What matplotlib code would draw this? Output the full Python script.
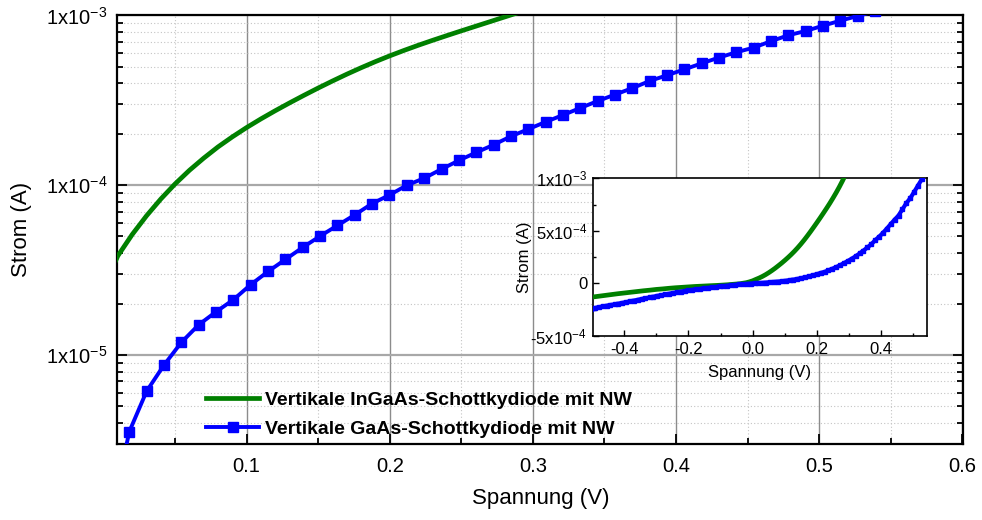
import math
import matplotlib
matplotlib.use('Agg')
import matplotlib.pyplot as plt
from matplotlib.ticker import FixedLocator, FuncFormatter, LogLocator, MultipleLocator, NullFormatter

plt.rcParams['font.family'] = ['Liberation Sans', 'DejaVu Sans']
plt.rcParams['mathtext.fontset'] = 'custom'
plt.rcParams['mathtext.rm'] = 'Liberation Sans'
plt.rcParams['mathtext.it'] = 'Liberation Sans:italic'
plt.rcParams['mathtext.bf'] = 'Liberation Sans:bold'

# ---------------- data ----------------
label_ingaas = "Vertikale InGaAs-Schottkydiode mit NW"
label_gaas = "Vertikale GaAs-Schottkydiode mit NW"

ingaas_v = [-0.50, -0.48, -0.46, -0.44, -0.42, -0.40, -0.38, -0.36, -0.34, -0.32,
            -0.30, -0.28, -0.26, -0.24, -0.22, -0.20, -0.18, -0.16, -0.14, -0.12,
            -0.10, -0.08, -0.06, -0.04, -0.03, -0.02, -0.01, 0.00,
            0.01, 0.02, 0.03, 0.04, 0.05, 0.06, 0.07, 0.08, 0.09, 0.10,
            0.11, 0.12, 0.13, 0.14, 0.15, 0.16, 0.17, 0.18, 0.19, 0.20,
            0.21, 0.22, 0.23, 0.24, 0.25, 0.26, 0.27, 0.28, 0.29, 0.30]
ingaas_i = [-1.30e-4, -1.22e-4, -1.14e-4, -1.06e-4, -0.98e-4, -0.91e-4, -0.84e-4, -0.77e-4, -0.70e-4, -0.64e-4,
            -0.57e-4, -0.52e-4, -0.46e-4, -0.41e-4, -0.37e-4, -0.33e-4, -0.29e-4, -0.26e-4, -0.23e-4, -0.20e-4,
            -0.17e-4, -0.13e-4, -0.08e-4, -0.03e-4, 0.02e-4, 0.07e-4, 0.15e-4, 2.5e-5,
            3.846e-5, 5.13e-5, 6.61e-5, 8.30e-5, 1.019e-4, 1.225e-4, 1.445e-4, 1.683e-4, 1.928e-4, 2.188e-4,
            2.460e-4, 2.748e-4, 3.055e-4, 3.384e-4, 3.737e-4, 4.111e-4, 4.508e-4, 4.920e-4, 5.346e-4, 5.781e-4,
            6.223e-4, 6.675e-4, 7.136e-4, 7.611e-4, 8.110e-4, 8.630e-4, 9.183e-4, 9.772e-4, 1.040e-3, 1.107e-3]

gaas_v = [-0.503, -0.491, -0.479, -0.467, -0.455, -0.443, -0.430, -0.418, -0.406, -0.394,
          -0.382, -0.370, -0.358, -0.346, -0.334, -0.321, -0.309, -0.297, -0.285, -0.273,
          -0.261, -0.249, -0.237, -0.224, -0.212, -0.200, -0.188, -0.176, -0.164, -0.152,
          -0.140, -0.127, -0.115, -0.103, -0.091, -0.079, -0.067, -0.055, -0.043, -0.031,
          -0.018, -0.006, 0.006,
          0.0180, 0.0301, 0.0422, 0.0544, 0.0665, 0.0786, 0.0907, 0.1028, 0.1150, 0.1271,
          0.1392, 0.1513, 0.1634, 0.1756, 0.1877, 0.1998, 0.2119, 0.2240, 0.2362, 0.2483,
          0.2604, 0.2725, 0.2846, 0.2968, 0.3089, 0.3210, 0.3331, 0.3452, 0.3574, 0.3695,
          0.3816, 0.3937, 0.4058, 0.4180, 0.4301, 0.4422, 0.4543, 0.4664, 0.4786, 0.4907,
          0.5028, 0.5149, 0.5270, 0.5392, 0.5513]
gaas_i = [-2.40e-4, -2.33e-4, -2.26e-4, -2.19e-4, -2.12e-4, -2.05e-4, -1.99e-4, -1.92e-4, -1.85e-4, -1.78e-4,
          -1.70e-4, -1.63e-4, -1.56e-4, -1.48e-4, -1.41e-4, -1.33e-4, -1.26e-4, -1.18e-4, -1.12e-4, -1.05e-4,
          -0.98e-4, -0.91e-4, -0.85e-4, -0.78e-4, -0.72e-4, -0.66e-4, -0.61e-4, -0.56e-4, -0.52e-4, -0.47e-4,
          -0.43e-4, -0.38e-4, -0.34e-4, -0.29e-4, -0.25e-4, -0.21e-4, -0.17e-4, -0.13e-4, -0.10e-4, -0.07e-4,
          -0.04e-4, -0.01e-4, 1.2e-6,
          3.55e-6, 6.14e-6, 8.74e-6, 1.19e-5, 1.51e-5, 1.80e-5, 2.12e-5, 2.60e-5, 3.11e-5, 3.66e-5,
          4.31e-5, 5.02e-5, 5.80e-5, 6.70e-5, 7.81e-5, 8.76e-5, 1.00e-4, 1.10e-4, 1.245e-4, 1.40e-4,
          1.56e-4, 1.73e-4, 1.94e-4, 2.14e-4, 2.36e-4, 2.59e-4, 2.85e-4, 3.13e-4, 3.42e-4, 3.73e-4,
          4.11e-4, 4.44e-4, 4.81e-4, 5.22e-4, 5.65e-4, 6.07e-4, 6.46e-4, 7.05e-4, 7.64e-4, 8.10e-4,
          8.70e-4, 9.31e-4, 9.92e-4, 1.06e-3, 1.13e-3]

main_xticks = [0.1, 0.2, 0.3, 0.4, 0.5, 0.6]
main_yticks = [1e-5, 1e-4, 1e-3]
inset_xticks = [-0.4, -0.2, 0.0, 0.2, 0.4]
inset_yticks = [-5e-4, 0, 5e-4, 1e-3]
inset_ylabels = ['-5x10$^{-4}$', '0', '5x10$^{-4}$', '1x10$^{-3}$']

GREEN = '#008000'
BLUE = '#0000ff'

# ---------------- figure ----------------
W, H = 982, 520
fig = plt.figure(figsize=(W / 100, H / 100), dpi=100)

def fx(px):
    return px / W

def fy(py):
    return 1 - py / H

ax = fig.add_axes([fx(117.3), fy(444), fx(963.3) - fx(117.3), fy(15.4) - fy(444)])
ax.set_yscale('log', nonpositive='mask')

l1, = ax.plot(ingaas_v, ingaas_i, color=GREEN, lw=3.4, zorder=3, label=label_ingaas)
l2, = ax.plot(gaas_v, gaas_i, color=BLUE, lw=2.8, marker='s', ms=7, mec=BLUE, mfc=BLUE,
              zorder=4, label=label_gaas)

ax.set_xlim(0.0096, 0.6008)
ax.set_ylim(3.0e-6, 1e-3)

ax.xaxis.set_major_locator(FixedLocator(main_xticks))
ax.xaxis.set_minor_locator(MultipleLocator(0.05))
ax.xaxis.set_major_formatter(FuncFormatter(lambda v, p: f"{v:.1f}"))
ax.yaxis.set_major_locator(FixedLocator(main_yticks))
ax.yaxis.set_minor_locator(LogLocator(base=10, subs=[2, 3, 4, 5, 6, 7, 8, 9]))
ax.yaxis.set_minor_formatter(NullFormatter())
ax.yaxis.set_major_formatter(FuncFormatter(lambda v, p: "1x10$^{%d}$" % round(math.log10(v))))

ax.tick_params(which='both', direction='in', right=True, top=False, width=1.3)
ax.tick_params(which='major', length=7, labelsize=14.5, pad=7)
ax.tick_params(axis='x', which='major', pad=9)
ax.tick_params(which='minor', length=4)

ax.xaxis.grid(True, which='major', color='#8c8c8c', lw=1.0)
ax.yaxis.grid(True, which='major', color='#a8a8a8', lw=1.6)
ax.grid(True, which='minor', color='#c4c4c4', lw=0.8, ls=(0, (1, 2)))
ax.set_axisbelow(True)
for s in ax.spines.values():
    s.set_linewidth(1.6)

ax.set_xlabel("Spannung (V)", fontsize=16)
ax.set_ylabel("Strom (A)", fontsize=16)
ax.xaxis.set_label_coords(0.5, (444 - 498.5) / 428.6, transform=ax.transAxes)
ax.yaxis.set_label_coords((22 - 117.3) / 846, 0.5, transform=ax.transAxes)
ax.xaxis.label.set_va('center')
ax.yaxis.label.set_va('center')

leg = ax.legend(handles=[l1, l2], loc='upper left', bbox_to_anchor=(fx(206), fy(391.5)),
                bbox_transform=fig.transFigure, frameon=False, borderpad=0, borderaxespad=0,
                handlelength=2.75, handletextpad=0.27, labelspacing=0.56, numpoints=1,
                prop={'weight': 'bold', 'size': 14})

# ---------------- inset ----------------
ins = fig.add_axes([fx(592.7), fy(336), fx(926.7) - fx(592.7), fy(178.3) - fy(336)])
ins.set_facecolor('white')
ins.plot(ingaas_v, ingaas_i, color=GREEN, lw=3.4, zorder=3)
ins.plot(gaas_v, gaas_i, color=BLUE, lw=3.0, marker='s', ms=3.5, mec=BLUE, mfc=BLUE, zorder=4)
ins.set_xlim(-0.498, 0.542)
ins.set_ylim(-5e-4, 1e-3)
ins.xaxis.set_major_locator(FixedLocator(inset_xticks))
ins.xaxis.set_minor_locator(MultipleLocator(0.1))
ins.xaxis.set_major_formatter(FuncFormatter(lambda v, p: f"{v:.1f}"))
ins.yaxis.set_major_locator(FixedLocator(inset_yticks))
ins.yaxis.set_minor_locator(MultipleLocator(2.5e-4))
ins.set_yticklabels(inset_ylabels)
ins.tick_params(which='both', direction='in', width=1.0)
ins.tick_params(which='major', length=4, labelsize=12, pad=4)
ins.tick_params(which='minor', length=2)
for s in ins.spines.values():
    s.set_linewidth(1.2)
ins.set_xlabel("Spannung (V)", fontsize=12)
ins.set_ylabel("Strom (A)", fontsize=12)
ins.xaxis.set_label_coords(0.5, (336 - 373) / 157.7, transform=ins.transAxes)
ins.yaxis.set_label_coords((524 - 592.7) / 334, 0.5, transform=ins.transAxes)
ins.xaxis.label.set_va('center')
ins.yaxis.label.set_va('center')

fig.savefig('out.png', dpi=100)
